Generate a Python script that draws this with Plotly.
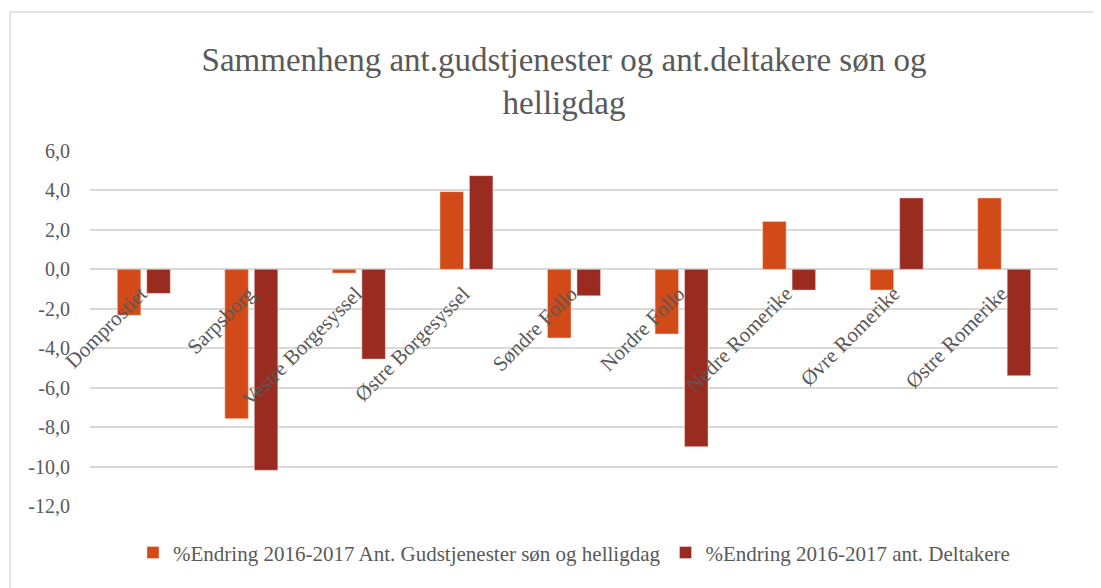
import plotly.graph_objects as go

categories = ["Domprostiet", "Sarpsborg", "Vestre Borgesyssel", "Østre Borgesyssel",
              "Søndre Follo", "Nordre Follo", "Nedre Romerike", "Øvre Romerike", "Østre Romerike"]
gudstjenester = [-2.33, -7.57, -0.19, 3.94, -3.48, -3.28, 2.43, -1.05, 3.62]
deltakere = [-1.22, -10.19, -4.55, 4.75, -1.34, -8.99, -1.05, 3.62, -5.39]
series_names = ["%Endring 2016-2017 Ant. Gudstjenester søn og helligdag",
                "%Endring 2016-2017 ant. Deltakere"]
y_tickvals = [6, 4, 2, 0, -2, -4, -6, -8, -10, -12]
y_ticktext = ["6,0", "4,0", "2,0", "0,0", "-2,0", "-4,0", "-6,0", "-8,0", "-10,0", "-12,0"]
title_text = "Sammenheng ant.gudstjenester og ant.deltakere søn og<br>helligdag"

FONT = "Liberation Serif"
GREY = "#595959"

fig = go.Figure()
fig.add_trace(go.Bar(x=categories, y=gudstjenester, name=series_names[0],
                     marker=dict(color="#D14A18", line=dict(color="rgba(255,220,210,0.6)", width=0.8))))
fig.add_trace(go.Bar(x=categories, y=deltakere, name=series_names[1],
                     marker=dict(color="#9A2B20", line=dict(color="rgba(255,220,210,0.6)", width=0.8))))

fig.update_layout(
    width=1101, height=588,
    margin=dict(l=82, r=51, t=143, b=90),
    paper_bgcolor="white", plot_bgcolor="white",
    barmode="group", bargap=0.452, bargroupgap=0.203,
    title=dict(text=title_text, x=0.505, xanchor="center", y=0.893, yanchor="middle",
               font=dict(family=FONT, size=33, color=GREY)),
    font=dict(family=FONT, color=GREY),
    legend=dict(orientation="h", x=0.5, xanchor="center", y=-0.132, yanchor="middle",
                font=dict(family=FONT, size=21, color=GREY), itemwidth=30,
                traceorder="normal"),
    xaxis=dict(anchor="free", position=12/18, showline=False, ticks="",
               tickangle=-45, tickfont=dict(family=FONT, size=21, color=GREY),
               showgrid=False, zeroline=False, ticklabelstandoff=7, ticklabelshift=-3),
    yaxis=dict(range=[-12, 6], domain=[0, 1], tickvals=y_tickvals, ticktext=y_ticktext,
               tickfont=dict(family=FONT, size=20, color=GREY), showgrid=True,
               gridcolor="#D9D9D9", gridwidth=1.5, zeroline=True, zerolinecolor="#D9D9D9",
               zerolinewidth=1.5, showline=False, ticks="", ticklabelstandoff=19),
    shapes=[dict(type="rect", xref="paper", yref="paper", x0=-0.0826, y0=-0.4, x1=1.2, y1=1.3915,
                 line=dict(color="#D9D9D9", width=1.5), fillcolor="rgba(0,0,0,0)", layer="below")],
)

fig.write_html("out.html")
